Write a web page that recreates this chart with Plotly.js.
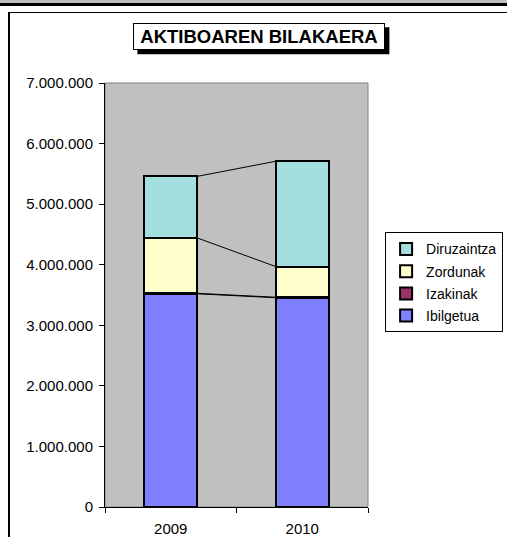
<!DOCTYPE html>
<html>
<head>
<meta charset="utf-8">
<script src="https://cdn.plot.ly/plotly-3.0.1.min.js"></script>
<style>
  html, body { margin:0; padding:0; background:#fff; width:507px; height:537px; overflow:hidden; }
  #chart { position:absolute; left:0; top:0; width:507px; height:537px; }
</style>
</head>
<body>
<div style="position:absolute;left:0;top:0;width:507px;height:3px;background:#c0c0c0"></div>
<div style="position:absolute;left:0;top:3px;width:507px;height:3px;background:#000"></div>
<div style="position:absolute;left:8px;top:12px;width:520px;height:540px;border-left:2px solid #000;border-top:1px solid #000"></div>
<div id="chart"></div>
<script>
// ---- data ----
const years = ['2009', '2010'];
const seriesNames = ['Ibilgetua', 'Izakinak', 'Zordunak', 'Diruzaintza'];
const ibilgetua   = [3520000, 3455000];
const izakinak    = [8000, 8000];
const zordunak    = [915000, 505000];
const diruzaintza = [1015000, 1740000];
const seriesColors = ['#8080FF', '#993366', '#FFFFCC', '#A4DEDF'];
const yTicks = [0, 1000000, 2000000, 3000000, 4000000, 5000000, 6000000, 7000000];

const seriesValues = [ibilgetua, izakinak, zordunak, diruzaintza];

const traces = seriesValues.map((vals, i) => ({
  type: 'bar',
  name: seriesNames[i],
  x: years,
  y: vals,
  legendgroup: 'g' + i,
  legendrank: seriesValues.length - i,
  marker: { color: seriesColors[i], line: { color: '#000', width: 2 } },
  hoverinfo: 'x+y+name'
}));

// series lines between stacked bars (Excel style), computed from cumulative values
const halfBar = 0.2;
const shapes = [];
let cum = years.map(() => 0);
seriesValues.forEach(vals => {
  cum = cum.map((c, j) => c + vals[j]);
  for (let j = 0; j < years.length - 1; j++) {
    shapes.push({
      type: 'line', xref: 'x', yref: 'y', layer: 'below',
      x0: j + halfBar, x1: j + 1 - halfBar,
      y0: cum[j], y1: cum[j + 1],
      line: { color: '#000', width: 1 }
    });
  }
});
// plot area border (gray)
shapes.push({
  type: 'rect', xref: 'paper', yref: 'paper', x0: 0, x1: 1, y0: 0, y1: 1,
  layer: 'below', line: { color: '#808080', width: 1 }, fillcolor: 'rgba(0,0,0,0)'
});
// title shadow
const titleX = 0.587, titleY = 1.109;
shapes.push({
  type: 'rect', xref: 'paper', yref: 'paper',
  xsizemode: 'pixel', ysizemode: 'pixel', xanchor: titleX, yanchor: titleY,
  x0: -126 + 4, x1: 126 + 4, y0: -13.5 - 4, y1: 13.5 - 4,
  fillcolor: '#000', line: { width: 0 }, layer: 'above'
});

const layout = {
  width: 507, height: 537,
  margin: { l: 105, r: 139, t: 83, b: 30, pad: 0, autoexpand: false },
  paper_bgcolor: 'rgba(0,0,0,0)',
  plot_bgcolor: '#C0C0C0',
  barmode: 'stack',
  bargap: 0.6,
  separators: ',.',
  font: { family: 'Liberation Sans, Arial, sans-serif', color: '#000' },
  showlegend: true,
  legend: {
    x: 1.065, xanchor: 'left', y: 0.6476, yanchor: 'top',
    bgcolor: '#fff', bordercolor: '#000', borderwidth: 1,
    font: { size: 14, family: 'Liberation Sans, Arial, sans-serif', color: '#000' },
    traceorder: 'grouped', tracegroupgap: 1,
    itemclick: false, itemdoubleclick: false
  },
  xaxis: {
    type: 'category',
    tickson: 'boundaries',
    ticks: 'outside', ticklen: 5, tickcolor: '#000', tickwidth: 1,
    showline: true, linecolor: '#000', linewidth: 1,
    showgrid: false, zeroline: false,
    tickfont: { size: 15 },
    ticklabelstandoff: 8,
    range: [-0.5, 1.5]
  },
  yaxis: {
    range: [0, 7000000],
    tickvals: yTicks,
    tickformat: ',d',
    ticks: 'outside', ticklen: 5, tickcolor: '#000', tickwidth: 1,
    showline: true, linecolor: '#000', linewidth: 1,
    showgrid: false, zeroline: false,
    tickfont: { size: 15 },
    ticklabelstandoff: 3
  },
  shapes: shapes,
  annotations: [{
    text: '<b>AKTIBOAREN BILAKAERA</b>',
    xref: 'paper', yref: 'paper', x: titleX, y: titleY,
    xanchor: 'center', yanchor: 'middle', showarrow: false,
    font: { size: 18.5, family: 'Liberation Sans, Arial, sans-serif', color: '#000' },
    bgcolor: '#fff', bordercolor: '#000', borderwidth: 1, borderpad: 2,
    width: 246, height: 21
  }]
};

Plotly.newPlot('chart', traces, layout, { staticPlot: true, displayModeBar: false });
</script>
</body>
</html>
